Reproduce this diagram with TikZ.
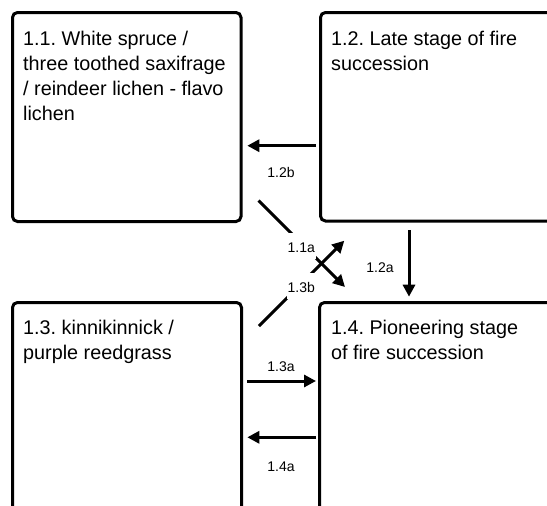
\documentclass[tikz,border=0pt]{standalone}
\usepackage{fontspec}
\setmainfont{Liberation Sans}
\usetikzlibrary{arrows.meta,calc}
\frenchspacing
\begin{document}
\begin{tikzpicture}[x=1pt,y=-1pt,
  box/.style={draw, line width=3pt, rounded corners=5pt, inner sep=0pt, outer sep=0pt, anchor=north west},
  title/.style={anchor=north west, inner sep=0pt, align=left, font=\fontsize{19.8}{25}\selectfont\frenchspacing},
  arr/.style={line width=3pt, -{Triangle[length=12pt,width=12pt]}},
  lbl/.style={font=\fontsize{14}{16}\selectfont, anchor=base, inner xsep=1pt, inner ysep=0pt, text height=20pt, text depth=6.5pt},
  lblw/.style={lbl, fill=white}]
\useasboundingbox (0,0) rectangle (547,506);
\clip (0,0) rectangle (547,506);
\node[box, minimum width=228.5pt, minimum height=209pt] (b11) at (12.5,12.5) {};
\node[box, minimum width=240pt, minimum height=208.5pt] (b12) at (320.5,12.5) {};
\node[box, minimum width=229pt, minimum height=220pt] (b13) at (12.5,302.5) {};
\node[box, minimum width=241pt, minimum height=220pt] (b14) at (319.5,302.5) {};
\node[title] (t11) at ($(b11.north west)+(10.5,17.5)$) {\rule{0pt}{15pt}1.1. White spruce /\\three toothed saxifrage\\/ reindeer lichen - flavo\\lichen};
\node[title] (t12) at ($(b12.north west)+(10.5,17.5)$) {\rule{0pt}{15pt}1.2. Late stage of fire\\succession};
\node[title] (t13) at ($(b13.north west)+(10.5,16.5)$) {\rule{0pt}{15pt}1.3. kinnikinnick /\\purple reedgrass};
\node[title] (t14) at ($(b14.north west)+(11.3,16.5)$) {\rule{0pt}{15pt}1.4. Pioneering stage\\of fire succession};
\draw[arr] ($(b12.north west)+(-4.5,133.2)$) -- node[lbl, xshift=-0.6pt, yshift=-32pt]{1.2b} ($(b11.north east)+(6.3,133.2)$);
\draw[arr] ($(b12.south west)+(88.5,9)$) -- node[lbl, xshift=-29pt, yshift=-8.65pt]{1.2a} ($(b14.north west)+(89.5,-5.8)$);
\draw[arr] ($(b13.north east)+(5.8,78.5)$) -- node[lbl, xshift=-0.6pt, yshift=9.3pt]{1.3a} ($(b14.north west)+(-3.5,78.5)$);
\draw[arr] ($(b14.north west)+(-3.5,134.8)$) -- node[lbl, xshift=-0.6pt, yshift=-34.4pt]{1.4a} ($(b13.north east)+(5.8,134.8)$);
\draw[arr] ($(b11.south east)+(17.5,-21)$) -- node[lblw, xshift=-0.45pt, yshift=-8.95pt]{1.1a} ($(b14.north west)+(25.5,-15.5)$);
\draw[arr] ($(b13.north east)+(17.5,23.5)$) -- node[lblw, xshift=-0.35pt, yshift=-9.35pt]{1.3b} ($(b12.south west)+(23.8,19.7)$);
\end{tikzpicture}
\end{document}
